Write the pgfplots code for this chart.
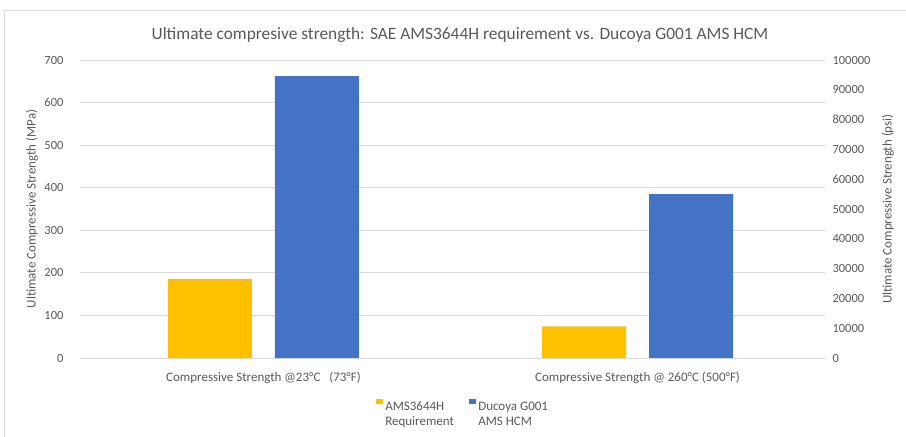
\documentclass[border=0pt]{standalone}
\usepackage{fontspec}
\setmainfont{Carlito}
\usepackage{pgfplots}
\pgfplotsset{compat=1.18}
\definecolor{amsyellow}{HTML}{FFC000}
\definecolor{ducblue}{HTML}{4472C4}
\definecolor{txtgray}{HTML}{595959}
\definecolor{gridgray}{HTML}{D9D9D9}

\newcommand{\twoline}[2]{\begin{tabular}[t]{@{}l@{}}#1\\#2\end{tabular}}

\begin{document}
\begin{tikzpicture}
\path[use as bounding box] (0,0) rectangle (906bp,437bp);
\draw[gridgray, line width=0.75bp] (4.5bp,0) -- (4.5bp,427bp) -- (906bp,427bp);

\begin{axis}[
  at={(80bp,79bp)}, anchor=south west,
  width=745bp, height=298bp, scale only axis,
  ybar=23bp, bar width=84bp,
  xmin=-0.4906, xmax=1.5013,
  ymin=0, ymax=700, ytick={0,100,...,700},
  xtick={0,1},
  xticklabels={Compressive Strength @23°C \ \ (73°F), Compressive Strength @ 260°C (500°F)},
  ymajorgrids, major grid style={gridgray, line width=0.75bp},
  axis line style={draw=none}, tick style={draw=none},
  font=\fontsize{13bp}{15bp}\selectfont,
  every tick label/.append style={text=txtgray},
  /pgf/number format/assume math mode=true,
  yticklabel style={xshift=-13bp, font=\fontsize{12.5bp}{15bp}\selectfont},
  xticklabel style={yshift=-6bp},
  title={Ultimate compresive strength: SAE AMS3644H requirement vs. Ducoya G001 AMS HCM},
  title style={at={(axis description cs:0.510,1)}, anchor=south, yshift=8bp,
    font=\fontsize{17.35bp}{19bp}\selectfont, text=txtgray},
  ylabel={Ultimate Compressive Strength (MPa)},
  ylabel style={at={(axis description cs:-0.0645,0.5)}, anchor=center, text=txtgray},
  legend columns=2,
  legend cell align=left,
  legend style={draw=none, inner sep=0pt, at={(axis description cs:0.397,-0.136)}, anchor=north west,
    text=txtgray, font=\fontsize{13bp}{15bp}\selectfont,
    nodes={inner sep=0pt},
    /tikz/every odd column/.style={column sep=2.7bp},
    /tikz/every even column/.style={column sep=15bp}},
  legend image code/.code={\fill[#1] (0bp,1.3bp) rectangle (6.6bp,7bp);},
]
\addplot[fill=amsyellow, draw=none] coordinates {(0,186) (1,74)};
\addplot[fill=ducblue, draw=none] coordinates {(0,662) (1,385)};
\legend{\twoline{AMS3644H}{Requirement}, \twoline{Ducoya G001}{AMS HCM}}
\end{axis}

\begin{axis}[
  at={(80bp,79bp)}, anchor=south west,
  width=745bp, height=298bp, scale only axis,
  xmin=-0.4906, xmax=1.5013, ymin=0, ymax=100000,
  ytick={0,10000,...,100000},
  scaled y ticks=false,
  axis x line=none, axis y line*=right,
  axis line style={draw=none}, tick style={draw=none},
  font=\fontsize{13bp}{15bp}\selectfont,
  every tick label/.append style={text=txtgray},
  /pgf/number format/assume math mode=true,
  yticklabel style={/pgf/number format/fixed, /pgf/number format/precision=0,
    /pgf/number format/1000 sep={}, xshift=4bp, font=\fontsize{12.5bp}{15bp}\selectfont},
  ylabel={Ultimate Compressive Strength (psi)},
  ylabel style={at={(axis description cs:1.0846,0.5)}, anchor=center, text=txtgray},
]
\addplot[draw=none] coordinates {(0,0)};
\end{axis}
\end{tikzpicture}
\end{document}
